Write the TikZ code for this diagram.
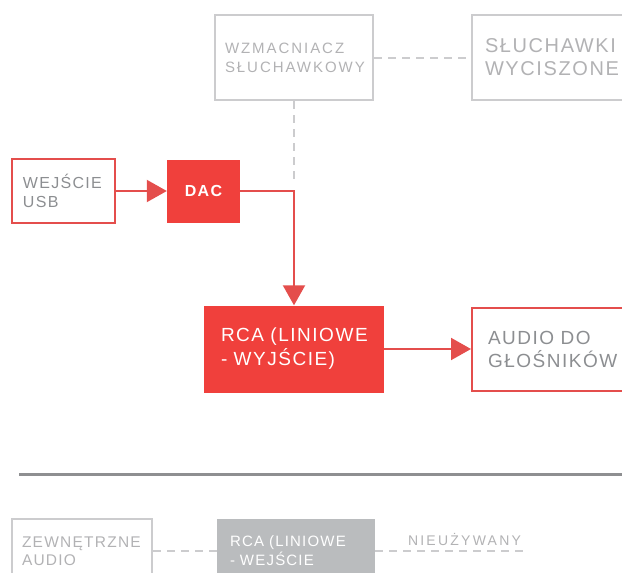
\documentclass[tikz,border=0pt]{standalone}
\usepackage{fontspec}
\setmainfont{Liberation Sans}
\usetikzlibrary{positioning}
\usetikzlibrary{arrows.meta}

\definecolor{dacred}{RGB}{240,64,60}
\definecolor{linered}{RGB}{228,78,76}
\definecolor{txtgray}{RGB}{140,142,145}
\definecolor{txtlight}{RGB}{178,178,180}
\definecolor{boxgray}{RGB}{204,204,206}
\definecolor{infill}{RGB}{186,188,190}
\definecolor{rulegray}{RGB}{142,143,145}

\begin{document}
\begin{tikzpicture}[x=1pt,y=-1pt,
  lightbox/.style={draw=boxgray,line width=2pt,text=txtlight,align=left,inner ysep=0pt},
  outbox/.style={draw=linered,line width=2pt,text=txtgray,align=left,inner ysep=0pt},
  redbox/.style={fill=dacred,text=white,align=left,inner ysep=0pt},
  redline/.style={draw=linered,line width=2pt,-{Triangle[length=20pt,width=22pt]}},
  graydash/.style={draw=boxgray,line width=2pt,dash pattern=on 8pt off 6pt},
  thindash/.style={draw=boxgray,line width=1.2pt,dash pattern=on 8pt off 6pt},
  caps/.style 2 args={font={\fontsize{#1}{#2}\selectfont\addfontfeature{LetterSpace=8}}}]
 \clip (0,0) rectangle (622,573);
 \node[lightbox,font={\fontsize{15}{19}\selectfont\addfontfeature{LetterSpace=13}},text width=138pt,inner xsep=10pt,minimum height=85pt] (wzm) at (294,57.5) {WZMACNIACZ\\SŁUCHAWKOWY};
 \node[lightbox,caps={20}{23},text width=142pt,inner xsep=13pt,minimum height=85pt] (sluch) at (556,57.5) {SŁUCHAWKI\\WYCISZONE};
 \node[outbox,caps={16}{18.5},text width=81pt,inner xsep=11pt,minimum height=64pt] (usb) at (63.5,191) {WEJŚCIE\\USB};
 \node[redbox,font={\fontsize{16}{18}\selectfont\bfseries\addfontfeature{LetterSpace=8}},align=center,minimum width=73pt,minimum height=63pt] (dac) at (203.5,191) {DAC};
 \node[redbox,caps={19}{24},text width=146pt,inner xsep=17pt,minimum height=87pt] (rca) at (294,349) {RCA (LINIOWE\\- WYJŚCIE)};
 \node[outbox,caps={19}{23},text width=146pt,inner xsep=16pt,minimum height=83pt] (audio) at (561,349) {AUDIO DO\\GŁOŚNIKÓW};
 \coordinate (tap) at (294,184);
 \draw[thindash] (wzm) -- (tap);
 \draw[graydash] (wzm) -- (sluch);
 \draw[redline] (usb) -- (dac);
 \draw[redline] (dac) -| (rca);
 \draw[redline] (rca) -- (audio);
 \coordinate (ruleL) at (19,474);
 \coordinate (ruleR) at (630,474);
 \draw[rulegray,line width=3pt] (ruleL) -- (ruleR);
 \node[lightbox,caps={15.5}{18},text width=120pt,inner xsep=10pt,minimum height=64pt] (zew) at (82,551) {ZEWNĘTRZNE\\AUDIO};
 \node[fill=infill,text=white,align=left,inner ysep=0pt,caps={15}{19},text width=132pt,inner xsep=13pt,minimum height=64pt] (rcain) at (296,551) {RCA (LINIOWE\\- WEJŚCIE};
 \node[text=txtlight,inner sep=0pt,font={\fontsize{14}{16}\selectfont\addfontfeature{LetterSpace=16}}] (unused) at (464.5,539) {NIEUŻYWANY};
 \coordinate (unusedend) at (528,551);
 \draw[graydash] (zew) -- (rcain);
 \draw[graydash] (rcain) -- (unusedend);
\end{tikzpicture}
\end{document}
